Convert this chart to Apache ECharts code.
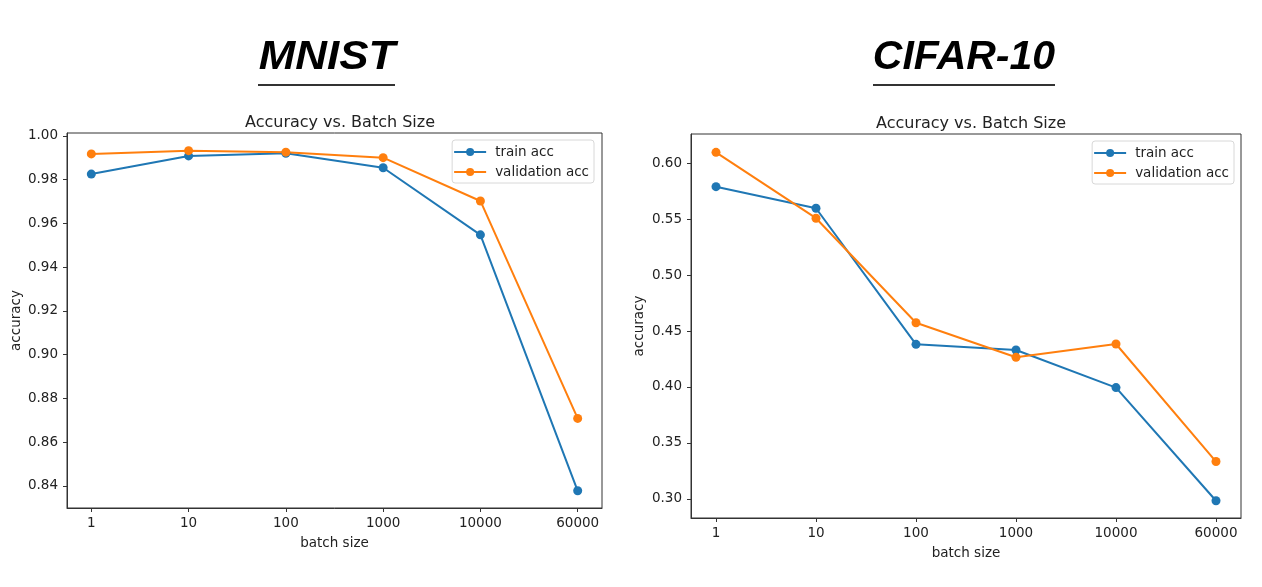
<!DOCTYPE html>
<html>
<head>
<meta charset="utf-8">
<script src="https://cdn.jsdelivr.net/npm/echarts@6/dist/echarts.min.js"></script>
<style>
html,body{margin:0;padding:0;background:#fff;}
#chart{width:1262px;height:587px;}
</style>
</head>
<body>
<div id="chart"></div>
<script>
// ---- data ----
const batchSizes = ['1', '10', '100', '1000', '10000', '60000'];
const mnistTrain = [0.9826, 0.9909, 0.9921, 0.9855, 0.9548, 0.8378];
const mnistVal   = [0.9918, 0.9933, 0.9926, 0.9901, 0.9703, 0.8709];
const cifarTrain = [0.5791, 0.5598, 0.4381, 0.4330, 0.3994, 0.2982];
const cifarVal   = [0.6098, 0.5509, 0.4574, 0.4265, 0.4384, 0.3333];
const mnistYTicks = [0.84, 0.86, 0.88, 0.90, 0.92, 0.94, 0.96, 0.98, 1.00];
const cifarYTicks = [0.30, 0.35, 0.40, 0.45, 0.50, 0.55, 0.60];
const chartTitles = ['MNIST', 'CIFAR-10'];
const subTitle = 'Accuracy vs. Batch Size';
const seriesNames = ['train acc', 'validation acc'];
const xName = 'batch size';
const yName = 'accuracy';

const BLUE = '#1f77b4', ORANGE = '#ff7f0e';
const FONT = 'DejaVu Sans';
const xIdx = batchSizes.map((_, i) => i);
const pairs = arr => arr.map((v, i) => [i, v]);

function xAxis(gridIndex) {
  return {
    type: 'value', gridIndex, min: -0.25, max: 5.25,
    axisLine: {show: true, onZero: false, lineStyle: {color: '#333', width: 1}},
    axisTick: {show: true, length: 4, customValues: xIdx, lineStyle: {color: '#333'}},
    axisLabel: {customValues: xIdx, formatter: v => batchSizes[Math.round(v)], color: '#222',
                fontFamily: FONT, fontSize: 13.5, margin: 8},
    splitLine: {show: false},
    name: xName, nameLocation: 'middle', nameGap: 28,
    nameTextStyle: {fontFamily: FONT, fontSize: 13.5, color: '#222'}
  };
}
function yAxis(gridIndex, min, max, ticks, gap) {
  return {
    type: 'value', gridIndex, min, max,
    axisLine: {show: true, onZero: false, lineStyle: {color: '#333', width: 1}},
    axisTick: {show: true, length: 4, customValues: ticks, lineStyle: {color: '#333'}},
    axisLabel: {customValues: ticks, formatter: v => v.toFixed(2), color: '#222',
                fontFamily: FONT, fontSize: 13.5, margin: 9},
    splitLine: {show: false},
    name: yName, nameLocation: 'middle', nameGap: gap,
    nameTextStyle: {fontFamily: FONT, fontSize: 13.5, color: '#222'}
  };
}
function line(name, data, color, i) {
  return {
    type: 'line', name, data, xAxisIndex: i, yAxisIndex: i,
    symbol: 'circle', symbolSize: 9, showSymbol: true,
    itemStyle: {color}, lineStyle: {color, width: 2},
    emphasis: {disabled: true}, animation: false
  };
}
function legend(right, top) {
  return {
    orient: 'vertical', right, top, data: seriesNames,
    itemWidth: 32, itemHeight: 10, itemGap: 6,
    padding: [5, 5, 4, 1],
    borderColor: '#d8d8d8', borderWidth: 1, borderRadius: 3,
    backgroundColor: 'rgba(255,255,255,0.8)',
    textStyle: {fontFamily: FONT, fontSize: 13.5, color: '#222', padding: [0, 0, 0, 4]}
  };
}
function bigTitle(text, cx, sx) {
  return {
    type: 'text', x: cx, y: 58, scaleX: sx,
    style: {text, x: 0, y: 0, align: 'center', verticalAlign: 'middle',
            font: 'italic bold 41px "Liberation Sans", Arial, sans-serif', fill: '#000'}
  };
}

const chart = echarts.init(document.getElementById('chart'));
chart.setOption({
  backgroundColor: '#fff',
  animation: false,
  title: [
    {text: subTitle, left: 335, top: 110, textAlign: 'center',
     textStyle: {fontFamily: FONT, fontWeight: 'normal', fontSize: 16, color: '#222'}},
    {text: subTitle, left: 966, top: 111, textAlign: 'center',
     textStyle: {fontFamily: FONT, fontWeight: 'normal', fontSize: 16, color: '#222'}}
  ],
  graphic: [
    bigTitle(chartTitles[0], 327, 1.07),
    bigTitle(chartTitles[1], 964, 1),
    {type: 'line', shape: {x1: 258, y1: 85, x2: 395, y2: 85}, style: {stroke: '#333', lineWidth: 2}},
    {type: 'line', shape: {x1: 873, y1: 85, x2: 1055, y2: 85}, style: {stroke: '#333', lineWidth: 2}}
  ],
  grid: [
    {left: 67, top: 133, width: 535, height: 375, show: true, borderColor: '#333', borderWidth: 1, backgroundColor: 'transparent'},
    {left: 691, top: 134, width: 550, height: 384, show: true, borderColor: '#333', borderWidth: 1, backgroundColor: 'transparent'}
  ],
  xAxis: [xAxis(0), xAxis(1)],
  yAxis: [yAxis(0, 0.82994, 1.00137, mnistYTicks, 44), yAxis(1, 0.2828, 0.6262, cifarYTicks, 45)],
  legend: [legend(668, 140), legend(28, 141)],
  series: [
    line(seriesNames[0], pairs(mnistTrain), BLUE, 0),
    line(seriesNames[1], pairs(mnistVal), ORANGE, 0),
    line(seriesNames[0], pairs(cifarTrain), BLUE, 1),
    line(seriesNames[1], pairs(cifarVal), ORANGE, 1)
  ]
});
</script>
</body>
</html>
